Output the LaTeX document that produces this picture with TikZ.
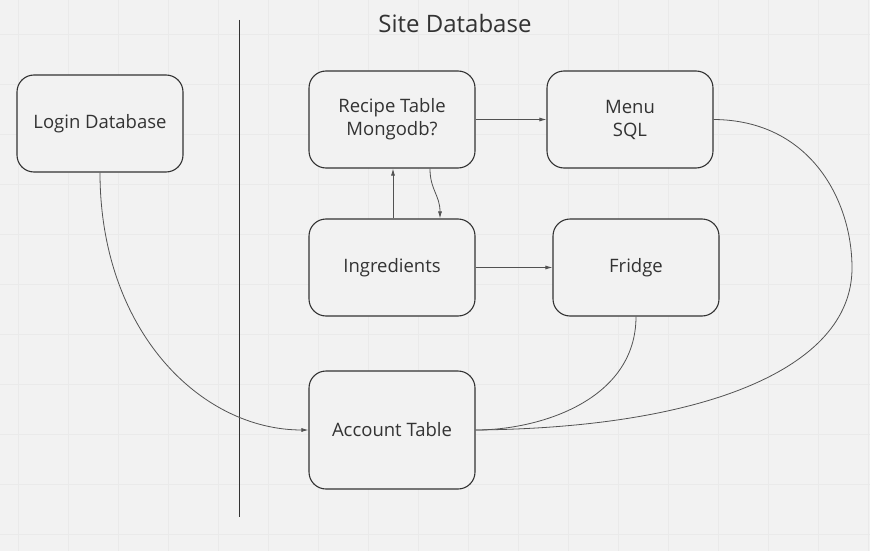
\documentclass[tikz,border=0pt]{standalone}
\usepackage{fontspec}
\setmainfont{Open Sans}
\usetikzlibrary{arrows.meta}
\definecolor{bg}{HTML}{F2F2F2}
\definecolor{gridc}{HTML}{EAEAEA}
\definecolor{ink}{HTML}{333333}
\definecolor{txt}{HTML}{333333}
\tikzset{
  box/.style={draw=ink, line width=1.1pt, rounded corners=17pt, fill=bg,
    minimum width=166pt, minimum height=97pt, align=center, text=txt,
    font=\fontsize{18.5}{23}\selectfont, inner sep=0pt},
  link/.style={draw=ink!85, line width=0.8pt},
  arr/.style={link, -{Latex[length=7pt,width=4pt]}},
}
\begin{document}
\begin{tikzpicture}[x=1pt,y=-1pt]
\useasboundingbox (0,0) rectangle (870,551);
\fill[bg] (0,0) rectangle (870,551);
\foreach \gx in {18,68,...,868} \draw[gridc, line width=0.6pt] (\gx,0) -- (\gx,551);
\foreach \gy in {34,84,...,551} \draw[gridc, line width=0.6pt] (0,\gy) -- (870,\gy);

\draw[ink, line width=1pt] (239,20) coordinate (divtop) -- (239,517) coordinate (divbot);
\node[text=txt, font=\fontsize{24}{28}\selectfont] (title) at (455,24) {Site Database};

\node[box] (login) at (100,123.5) {Login Database};
\node[box] (recipe) at (392,119.5) {Recipe Table\\Mongodb?};
\node[box] (menu) at (630,119.5) {Menu\\SQL};
\node[box] (ingr) at (392,267.5) {Ingredients};
\node[box] (fridge) at (636,267.5) {Fridge};
\node[box, minimum height=118pt] (account) at (392,430) {Account Table};

\draw[arr] (recipe.east) -- (menu.west);
\draw[arr] (ingr.east) -- (fridge.west);
\draw[arr] (ingr.north -| 393,0) -- (recipe.south -| 393,0);
\draw[arr] (recipe.south -| 430,0) .. controls (430,190) and (440,195) .. (ingr.north -| 440,0);
\draw[arr] (login.south) .. controls (100,330) and (200,430) .. (account.west);
\draw[link] (fridge.south) .. controls (636,400) and (540,430) .. (account.east);
\draw[link] (menu.east) .. controls (810,120) and (852,200) .. (852,268)
  .. controls (852,370) and (700,428) .. (account.east);
\end{tikzpicture}
\end{document}
